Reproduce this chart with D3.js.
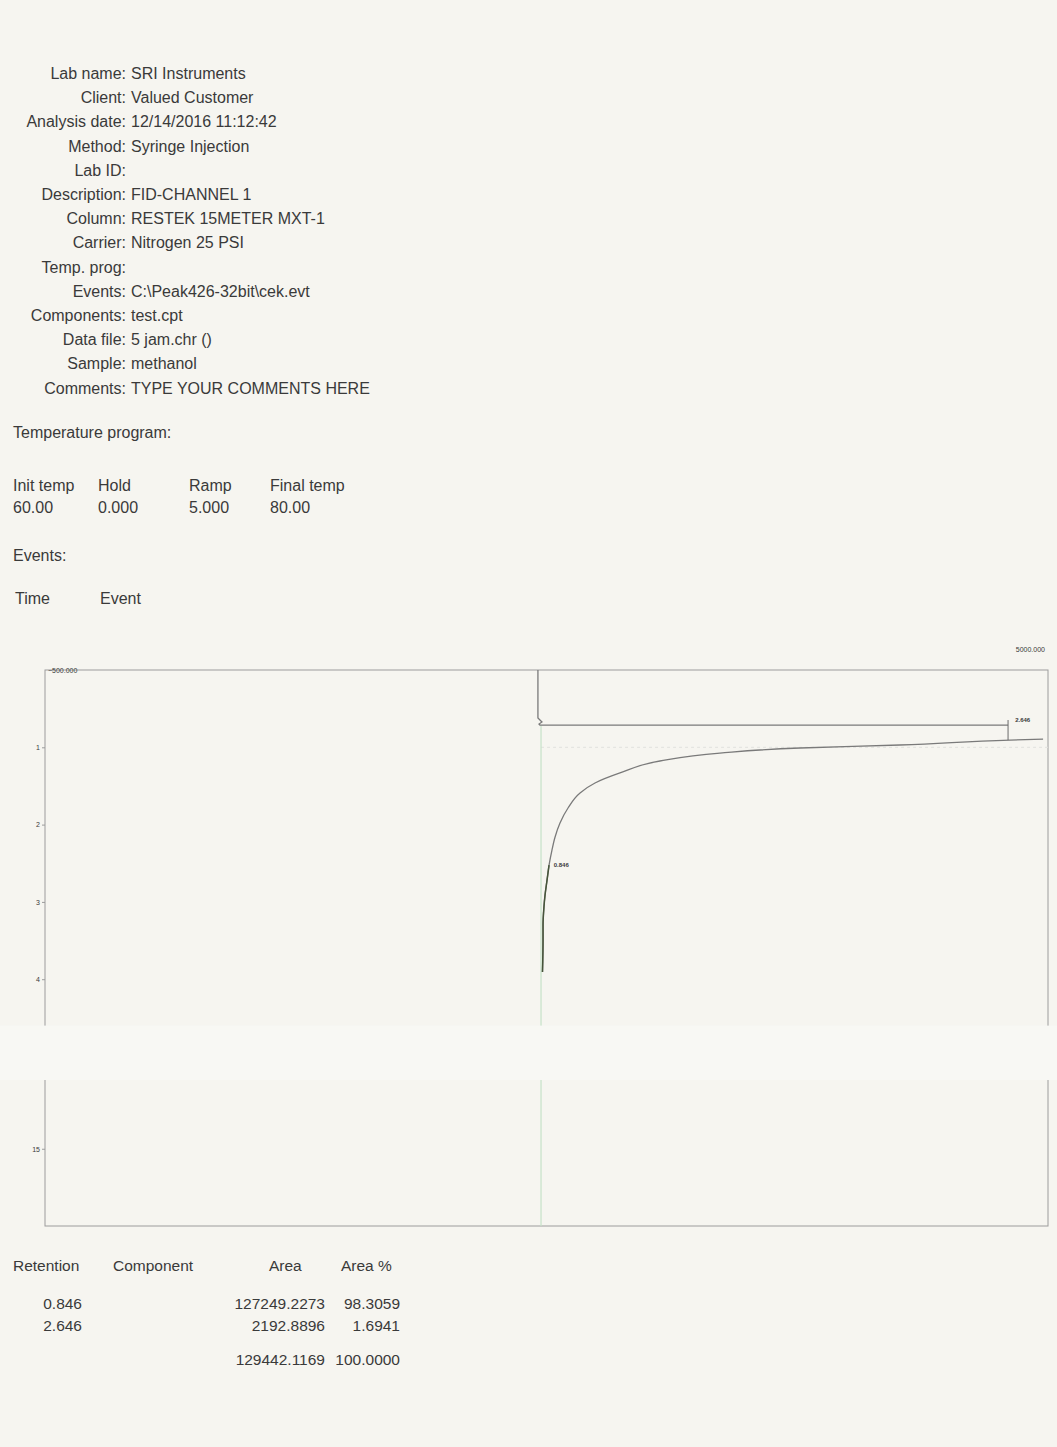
<!DOCTYPE html>
<html>
<head>
<meta charset="utf-8">
<script src="https://cdn.jsdelivr.net/npm/d3@7"></script>
<style>
  body { margin: 0; background: #f6f5f0; }
  text { font-family: "Liberation Sans", Arial, sans-serif; fill: #3a3a3a; }
</style>
</head>
<body>
<script>
// Report header fields
var headerLabels = ["Lab name", "Client", "Analysis date", "Method", "Lab ID", "Description",
  "Column", "Carrier", "Temp. prog", "Events", "Components", "Data file", "Sample", "Comments"];
var headerValues = ["SRI Instruments", "Valued Customer", "12/14/2016 11:12:42", "Syringe Injection", "",
  "FID-CHANNEL 1", "RESTEK 15METER MXT-1", "Nitrogen 25 PSI", "", "C:\\Peak426-32bit\\cek.evt",
  "test.cpt", "5 jam.chr ()", "methanol", "TYPE YOUR COMMENTS HERE"];

// Temperature program
var tempHeads = ["Init temp", "Hold", "Ramp", "Final temp"];
var tempValues = ["60.00", "0.000", "5.000", "80.00"];

// Chromatogram: time (min) runs down, signal (mV) runs across
var signalRange = [-500, 5000];
var timeTicks = [1, 2, 3, 4, 15];
var traceTime   = [0, 0.621, 0.673, 0.699, 0.712, 0.712];
var traceSignal = [2203, 2203, 2225, 2209, 2214, 4781];
var decayTime   = [0.893, 0.906, 0.970, 1.009, 1.074, 1.177, 1.332, 1.462, 1.591, 1.785, 1.979,
  2.16, 2.329, 2.523, 2.717, 2.911, 3.066, 3.30, 3.493, 3.907];
var decaySignal = [4973, 4792, 4188, 3640, 3201, 2872, 2653, 2516, 2434, 2368, 2324,
  2297, 2280, 2264, 2253, 2242, 2236, 2231, 2231, 2228];
var baselineSignal = 2220;

// Peak table
var retention = [0.846, 2.646];
var peakArea = [127249.2273, 2192.8896];
var areaPct = [98.3059, 1.6941];
var totalArea = 129442.1169;
var totalPct = 100;
// where the peak labels sit on the trace
var peakLabelTime = [2.55, 0.675];
var peakLabelSignal = [2290, 4820];

var svgWidth = 1057;
var svgHeight = 1447;

var svg = d3.select("body")
  .append("svg")
  .attr("width", svgWidth)
  .attr("height", svgHeight);

// ---- header block ----
var header = svg.append("g").style("font-size", "16px");
header.selectAll("text.lbl")
  .data(headerLabels)
  .enter()
  .append("text")
  .attr("class", "lbl")
  .attr("x", 126)
  .attr("y", (d, i) => 79 + i * 24.2)
  .attr("text-anchor", "end")
  .text(d => d + ":");
header.selectAll("text.val")
  .data(headerValues)
  .enter()
  .append("text")
  .attr("class", "val")
  .attr("x", 131)
  .attr("y", (d, i) => 79 + i * 24.2)
  .text(d => d);

svg.append("text").attr("x", 13).attr("y", 438).style("font-size", "16px").text("Temperature program:");

var tempX = [13, 98, 189, 270];
svg.selectAll("text.thead")
  .data(tempHeads)
  .enter()
  .append("text")
  .attr("x", (d, i) => tempX[i])
  .attr("y", 491)
  .style("font-size", "16px")
  .text(d => d);
svg.selectAll("text.tval")
  .data(tempValues)
  .enter()
  .append("text")
  .attr("x", (d, i) => tempX[i])
  .attr("y", 513)
  .style("font-size", "16px")
  .text(d => d);

svg.append("text").attr("x", 13).attr("y", 561).style("font-size", "16px").text("Events:");
svg.append("text").attr("x", 15).attr("y", 604).style("font-size", "16px").text("Time");
svg.append("text").attr("x", 100).attr("y", 604).style("font-size", "16px").text("Event");

// ---- chromatogram ----
var chartMargin = { top: 670, left: 45 };
var chartWidth = 1003;
var chartHeight = 556;

var chartGroup = svg.append("g")
  .attr("transform", `translate(${chartMargin.left}, ${chartMargin.top})`);

var xScale = d3.scaleLinear().domain(signalRange).range([0, chartWidth]);
// the printout skips from ~4.6 to ~14.1 min across the fold
var yScale = d3.scaleLinear().domain([0, 4.6, 14.11, 16]).range([0, 355.6, 410, chartHeight]);

// frame
chartGroup.append("rect")
  .attr("width", chartWidth)
  .attr("height", chartHeight)
  .attr("fill", "none")
  .attr("stroke", "#9c9c9c")
  .attr("stroke-width", 1);

// faint 1 minute gridline
chartGroup.append("line")
  .attr("x1", xScale(baselineSignal))
  .attr("x2", chartWidth)
  .attr("y1", yScale(1))
  .attr("y2", yScale(1))
  .attr("stroke", "#e2e2de")
  .attr("stroke-dasharray", "3,3");

// baseline
chartGroup.append("line")
  .attr("x1", xScale(baselineSignal))
  .attr("x2", xScale(baselineSignal))
  .attr("y1", yScale(0.72))
  .attr("y2", chartHeight)
  .attr("stroke", "#c6e2c8")
  .attr("stroke-width", 1.2);

var line = d3.line()
  .x(d => xScale(d[1]))
  .y(d => yScale(d[0]));

chartGroup.append("path")
  .datum(d3.zip(traceTime, traceSignal))
  .attr("d", line)
  .attr("fill", "none")
  .attr("stroke", "#7a7a7a")
  .attr("stroke-width", 1.3);

var decay = d3.zip(decayTime, decaySignal);
chartGroup.append("path")
  .datum(decay)
  .attr("d", line.curve(d3.curveMonotoneY))
  .attr("fill", "none")
  .attr("stroke", "#7a7a7a")
  .attr("stroke-width", 1.3);
// lower part of the curve prints darker
chartGroup.append("path")
  .datum(decay.filter(d => d[0] >= 2.5))
  .attr("d", line.curve(d3.curveMonotoneY))
  .attr("fill", "none")
  .attr("stroke", "#46553a")
  .attr("stroke-width", 1.5);

// peak marker for 2.646
chartGroup.append("line")
  .attr("x1", xScale(4781))
  .attr("x2", xScale(4781))
  .attr("y1", yScale(0.647))
  .attr("y2", yScale(0.906))
  .attr("stroke", "#6a6a6a");

chartGroup.selectAll("text.peak")
  .data(retention)
  .enter()
  .append("text")
  .attr("x", (d, i) => xScale(peakLabelSignal[i]))
  .attr("y", (d, i) => yScale(peakLabelTime[i]))
  .style("font-size", "6px")
  .style("font-weight", "bold")
  .text(d => d3.format(".3f")(d));

// hide the fold across the page
svg.append("rect")
  .attr("x", 0)
  .attr("y", chartMargin.top + yScale(4.6))
  .attr("width", svgWidth)
  .attr("height", yScale(14.11) - yScale(4.6))
  .attr("fill", "#f8f8f4");

// time axis
var leftAxis = d3.axisLeft(yScale).tickValues(timeTicks).tickSize(3).tickPadding(2);
var yAxis = chartGroup.append("g").call(leftAxis);
yAxis.select(".domain").remove();
yAxis.selectAll("line").attr("stroke", "#9c9c9c");
yAxis.selectAll("text").style("font-size", "7px").attr("fill", "#444");

// signal range labels
chartGroup.append("text")
  .attr("x", xScale(signalRange[0]) + 3)
  .attr("y", 3)
  .style("font-size", "7px")
  .text(d3.format(".3f")(signalRange[0]));
chartGroup.append("text")
  .attr("x", xScale(signalRange[1]) - 3)
  .attr("y", -18)
  .attr("text-anchor", "end")
  .style("font-size", "7px")
  .text(d3.format(".3f")(signalRange[1]));

// ---- peak table ----
var table = svg.append("g").style("font-size", "15.5px");
table.append("text").attr("x", 13).attr("y", 1271).text("Retention");
table.append("text").attr("x", 113).attr("y", 1271).text("Component");
table.append("text").attr("x", 269).attr("y", 1271).text("Area");
table.append("text").attr("x", 341).attr("y", 1271).text("Area %");

var rows = table.selectAll("g.row")
  .data(retention)
  .enter()
  .append("g")
  .attr("transform", (d, i) => `translate(0, ${1309 + i * 22})`);
rows.append("text").attr("x", 82).attr("text-anchor", "end").text(d => d3.format(".3f")(d));
rows.append("text").attr("x", 325).attr("text-anchor", "end").text((d, i) => d3.format(".4f")(peakArea[i]));
rows.append("text").attr("x", 400).attr("text-anchor", "end").text((d, i) => d3.format(".4f")(areaPct[i]));

table.append("text").attr("x", 325).attr("y", 1365).attr("text-anchor", "end").text(d3.format(".4f")(totalArea));
table.append("text").attr("x", 400).attr("y", 1365).attr("text-anchor", "end").text(d3.format(".4f")(totalPct));
</script>
</body>
</html>
